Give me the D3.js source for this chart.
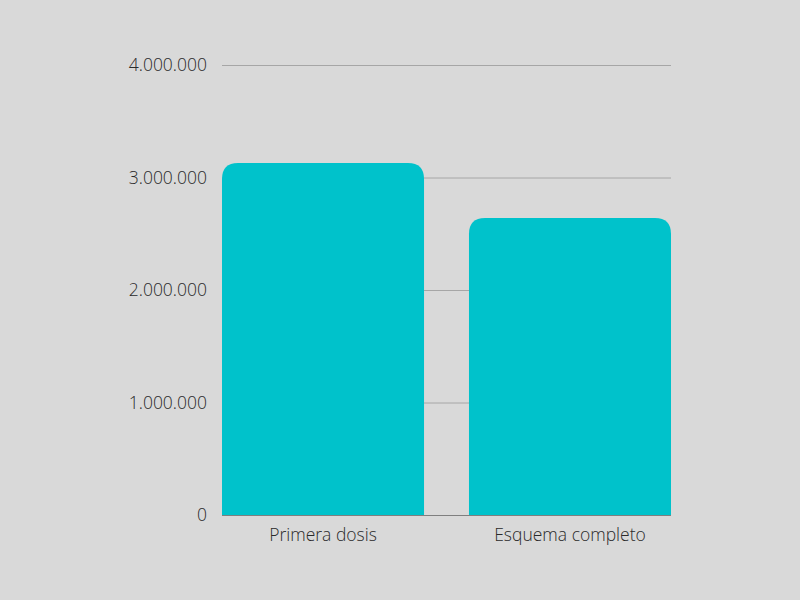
<!DOCTYPE html>
<html><head><meta charset="utf-8">
<script src="https://cdn.jsdelivr.net/npm/d3@7"></script>
<style>html,body{margin:0;padding:0;background:#d9d9d9;}</style>
</head><body>
<svg id="c" width="800" height="600"></svg>
<script>
const categories = ["Primera dosis", "Esquema completo"];
const values = [3129000, 2640000];
const yTicks = [0, 1000000, 2000000, 3000000, 4000000];

const svg = d3.select("#c");
svg.append("rect").attr("width",800).attr("height",600).attr("fill","#d9d9d9");
const m = {left:222, right:671, top:65, bottom:515};
const x = d3.scaleBand().domain(categories).range([m.left, m.right]).paddingInner(0.182).paddingOuter(0);
const y = d3.scaleLinear().domain([0, 4000000]).range([m.bottom, m.top]);
const fmt = v => v === 0 ? "0" : d3.format(",")(v).replace(/,/g, ".");
const font = "'Open Sans', sans-serif";

// grid
svg.append("g").selectAll("line").data(yTicks.filter(d=>d>0)).join("line")
  .attr("x1", m.left).attr("x2", m.right)
  .attr("y1", d=>y(d)+0.5).attr("y2", d=>y(d)+0.5)
  .attr("stroke", "#a6a6a6").attr("stroke-width", 1);

// y labels
svg.append("g").selectAll("text").data(yTicks).join("text")
  .attr("x", 207).attr("y", d=>y(d)).attr("dy","0.35em")
  .attr("text-anchor","end").attr("font-family",font).attr("font-size",17.5).attr("font-weight",300)
  .attr("fill","#2a2a2a").text(fmt);

// bars with rounded top corners
const r = 16;
svg.append("g").selectAll("path").data(categories).join("path")
  .attr("fill", "#00c2cb")
  .attr("d", (c,i) => {
    const x0 = x(c), w = x.bandwidth(), y0 = y(values[i]), y1 = y(0);
    return `M${x0},${y1}L${x0},${y0+r}Q${x0},${y0} ${x0+r},${y0}L${x0+w-r},${y0}Q${x0+w},${y0} ${x0+w},${y0+r}L${x0+w},${y1}Z`;
  });

// baseline
svg.append("line").attr("x1", m.left).attr("x2", m.right)
  .attr("y1", y(0)+0.5).attr("y2", y(0)+0.5).attr("stroke","#7f7f7f").attr("stroke-width",1.2);

// x labels
svg.append("g").selectAll("text").data(categories).join("text")
  .attr("x", c=>x(c)+x.bandwidth()/2).attr("y", 541)
  .attr("text-anchor","middle").attr("font-family",font).attr("font-size",17.5).attr("font-weight",300)
  .attr("fill","#2a2a2a").text(d=>d);
</script>
</body></html>
